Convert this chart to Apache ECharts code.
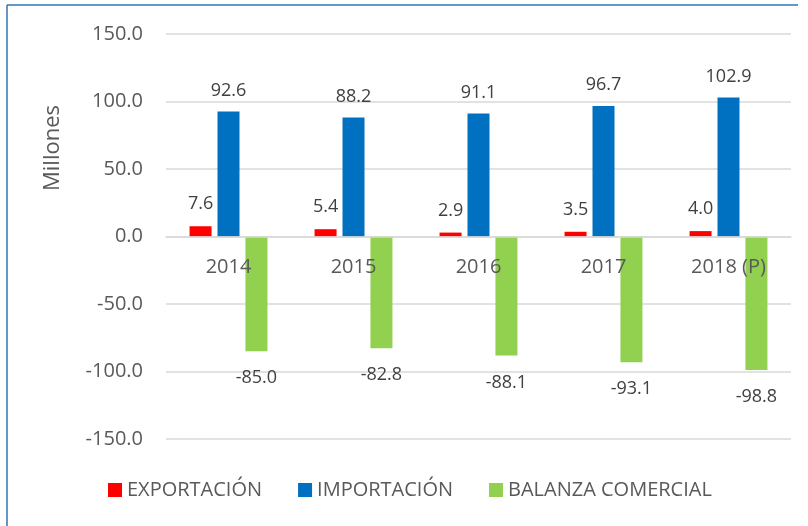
<!DOCTYPE html>
<html><head><meta charset="utf-8">
<script src="https://cdn.jsdelivr.net/npm/echarts@6/dist/echarts.min.js"></script>
<style>html,body{margin:0;padding:0;background:#fff}#c{width:808px;height:526px}</style>
</head><body><div id="c"></div>
<script>
const categories = ['2014', '2015', '2016', '2017', '2018 (P)'];
const exportacion = [7.6, 5.4, 2.9, 3.5, 4.0];
const importacion = [92.6, 88.2, 91.1, 96.7, 102.9];
const balanza = [-85.0, -82.8, -88.1, -93.1, -98.8];
const seriesNames = ['EXPORTACIÓN', 'IMPORTACIÓN', 'BALANZA COMERCIAL'];
const yAxisName = 'Millones';

const FONT = 'Open Sans';
const chart = echarts.init(document.getElementById('c'));
const lbl = (pos, d) => ({show: true, position: pos, distance: d, color: '#404040', fontSize: 18, fontFamily: FONT,
  formatter: p => p.value.toFixed(1)});
chart.setOption({
  animation: false,
  textStyle: {fontFamily: FONT},
  grid: {left: 166, right: 17, top: 34, bottom: 87},
  legend: {
    bottom: 21, left: 103, itemWidth: 14, itemHeight: 14, itemGap: 36,
    icon: 'rect', textStyle: {color: '#595959', fontSize: 20, fontFamily: FONT},
    data: seriesNames
  },
  xAxis: {
    type: 'category', data: categories, z: 10, offset: -202.5,
    axisLine: {onZero: false, lineStyle: {color: '#d9d9d9', width: 1.5}},
    axisTick: {show: false},
    axisLabel: {color: '#595959', fontSize: 20, margin: 21, fontFamily: FONT}
  },
  yAxis: {
    type: 'value', min: -150, max: 150, interval: 50,
    axisLine: {show: false}, axisTick: {show: false},
    splitLine: {lineStyle: {color: '#d9d9d9', width: 1.5}},
    axisLabel: {color: '#595959', fontSize: 20, margin: 23, fontFamily: FONT, formatter: v => v.toFixed(1)}
  },
  graphic: [
    {type: 'line', shape: {x1: 7, y1: 5, x2: 798, y2: 5}, style: {stroke: '#2E75B6', lineWidth: 1.5}},
    {type: 'line', shape: {x1: 7, y1: 5, x2: 7, y2: 526}, style: {stroke: '#2E75B6', lineWidth: 1.5}},
    {type: 'text', x: 53, y: 148, rotation: Math.PI / 2, style: {text: yAxisName, fill: '#595959', fontSize: 22, fontFamily: FONT, align: 'center', verticalAlign: 'middle'}}
  ],
  series: [
    {name: seriesNames[0], type: 'bar', data: exportacion, itemStyle: {color: '#FF0000'}, barWidth: 22, barGap: '27%', label: lbl('top', 13)},
    {name: seriesNames[1], type: 'bar', data: importacion, itemStyle: {color: '#0070C0'}, barWidth: 22, barGap: '27%', label: lbl('top', 12)},
    {name: seriesNames[2], type: 'bar', data: balanza, itemStyle: {color: '#92D050'}, barWidth: 22, barGap: '27%', label: lbl('bottom', 18)}
  ]
});
</script></body></html>
